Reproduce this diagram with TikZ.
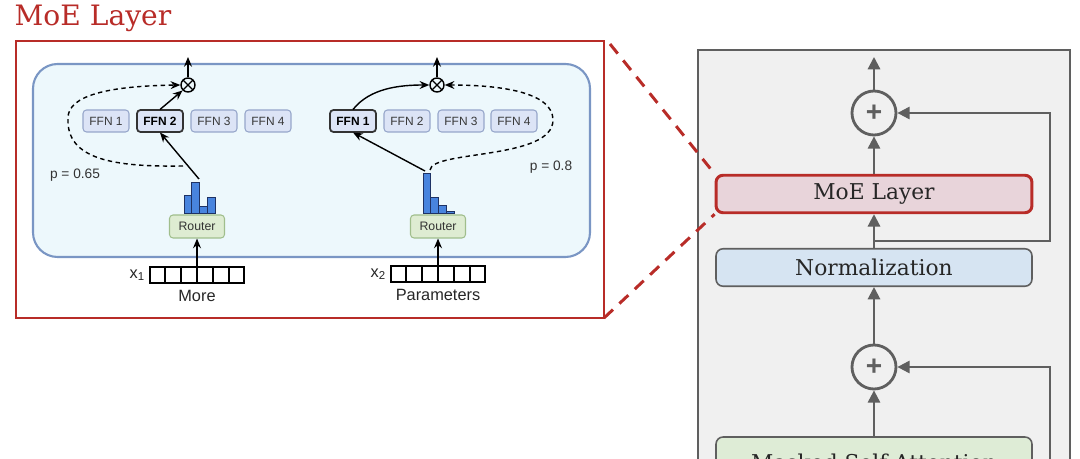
\documentclass[tikz,border=0pt]{standalone}
\usepackage{fontspec}
\setmainfont{DejaVu Serif}
\setsansfont{Liberation Sans}
\usetikzlibrary{arrows.meta,calc,positioning}
\definecolor{moered}{RGB}{184,44,40}
\definecolor{moefill}{RGB}{232,212,218}
\definecolor{frameline}{RGB}{122,150,196}
\definecolor{framefill}{RGB}{237,248,252}
\definecolor{ffnline}{RGB}{150,166,202}
\definecolor{ffnfill}{RGB}{220,228,246}
\definecolor{routerline}{RGB}{160,190,140}
\definecolor{routerfill}{RGB}{222,236,210}
\definecolor{barfill}{RGB}{72,132,222}
\definecolor{barline}{RGB}{30,50,100}
\definecolor{grayline}{RGB}{95,95,95}
\definecolor{grayfill}{RGB}{240,240,240}
\definecolor{normfill}{RGB}{214,228,242}
\definecolor{attnfill}{RGB}{222,236,214}

\begin{document}
\begin{tikzpicture}[x=0.02cm,y=-0.02cm,line width=0.8pt,
      >={Stealth[width=4.5pt,length=5.5pt]},
      ffn/.style={draw=ffnline,fill=ffnfill,line width=0.6pt,rounded corners=2pt,
        minimum width=0.92cm,minimum height=0.44cm,inner sep=0pt,text=black!78,
        font=\sffamily\fontsize{6.8}{8}\selectfont},
      ffnsel/.style={ffn,draw=black!80,line width=1pt,text=black,
        font=\sffamily\bfseries\fontsize{6.8}{8}\selectfont},
      router/.style={draw=routerline,fill=routerfill,line width=0.6pt,rounded corners=2pt,
        minimum width=1.1cm,minimum height=0.46cm,inner sep=0pt,text=black!80,
        font=\sffamily\fontsize{7}{8}\selectfont},
      mult/.style={circle,draw,line width=0.8pt,minimum size=0.28cm,inner sep=0pt,
        path picture={\draw[line width=0.7pt]
          (path picture bounding box.north west)--(path picture bounding box.south east)
          (path picture bounding box.north east)--(path picture bounding box.south west);}},
      vec/.style={draw,line width=0.9pt,minimum width=1.88cm,minimum height=0.32cm,inner sep=0pt},
      bar/.style={draw=barline,fill=barfill,line width=0.5pt},
      lbl/.style={font=\sffamily\fontsize{9.3}{11}\selectfont,text=black!85,inner sep=1pt},
      prob/.style={font=\sffamily\fontsize{7.8}{9}\selectfont,text=black!80},
      gate/.style={dash pattern=on 2.5pt off 2pt},
      layer/.style={draw=grayline,line width=0.9pt,rounded corners=4pt,minimum width=6.32cm,
        minimum height=0.75cm,inner sep=0pt,text=black!85,font=\fontsize{12.4}{14}\selectfont},
      plus/.style={circle,draw=grayline,line width=1.6pt,minimum size=0.88cm,inner sep=0pt,
        text=grayline,font=\sffamily\bfseries\fontsize{16}{16}\selectfont},
      flow/.style={draw=grayline,line width=1.2pt,-{Triangle[width=7pt,length=7pt]}},
      link/.style={draw=grayline,line width=1.2pt}]
  \useasboundingbox (0,0) rectangle (1080,459);
  \clip (0,0) rectangle (1080,459);

  % zoomed MoE layer
  \node[anchor=base west,inner sep=0pt,text=moered,font=\fontsize{16}{18}\selectfont]
    (title) at (14,26) {MoE Layer};
  \draw[moered,line width=1.7pt] (16,41) rectangle (604,318);
  \coordinate (zoomtop) at (610,44);
  \coordinate (zoombot) at (604,318);
  \draw[frameline,fill=framefill,line width=1.2pt,rounded corners=14pt] (33,64) rectangle (590,257);

  \foreach \n/\x in {1/106,2/160,3/214,4/268}
    \node[ffn] (ffnA\n) at (\x,121) {FFN \n};
  \node[ffnsel] at (ffnA2) {FFN 2};
  \foreach \n/\x in {1/353,2/407,3/461,4/514}
    \node[ffn] (ffnB\n) at (\x,121) {FFN \n};
  \node[ffnsel] at (ffnB1) {FFN 1};

  \node[mult] (multA) at (188,85) {};
  \node[mult] (multB) at (437,85) {};
  \coordinate (outA) at (188,57);
  \coordinate (outB) at (437,57);
  \draw[->] (multA) -- (outA);
  \draw[->] (multB) -- (outB);

  \node[router] (routerA) at (197,226.5) {Router};
  \node[router] (routerB) at (438,226.5) {Router};
  \foreach \h [count=\i from 0] in {195,182,206,197}
    \draw[bar] (184+\i*7.75,213) rectangle ++(7.75,\h-213);
  \foreach \h [count=\i from 0] in {173,197,205,211}
    \draw[bar] (423+\i*7.75,213) rectangle ++(7.75,\h-213);
  \coordinate (histA) at (199,179);
  \coordinate (histB) at (425,171);
  \coordinate (gateA) at (183,166);
  \coordinate (gateB) at (430,170);

  \node[vec] (vecA) at (197,275) {};
  \node[vec] (vecB) at (438,274) {};
  \foreach \v in {vecA,vecB}
    \foreach \i in {1,...,5}
      \draw[line width=0.9pt] ($(\v.south west)!\i/6!(\v.south east)$) -- ++(0,-16);
  \node[lbl,left=1pt of vecA] (xA) {x\textsubscript{1}};
  \node[lbl,left=1pt of vecB] (xB) {x\textsubscript{2}};
  \node[lbl,below=2pt of vecA] (wordA) {More};
  \node[lbl,below=2pt of vecB] (wordB) {Parameters};
  \draw[->] (vecA.north) -- (routerA.south);
  \draw[->] (vecB.north) -- (routerB.south);

  \draw[->] (histA) -- (ffnA2.south);
  \draw[->] (ffnA2.north) -- (multA.south west);
  \draw[->,gate] (gateA) .. controls (115,167) and (66,160) .. (68,118)
    .. controls (68,95) and (110,86) .. (multA.west);
  \draw[->] (histB) -- (ffnB1.south);
  \draw[->] (ffnB1.north) .. controls (370,88) and (400,85) .. (multB.west);
  \draw[->,gate] (gateB) .. controls (432,150) and (553,160) .. (553,120)
    .. controls (553,92) and (500,85) .. (multB.east);
  \node[prob] (pA) at (75,175) {p = 0.65};
  \node[prob] (pB) at (551,167) {p = 0.8};

  % decoder block
  \draw[grayline,fill=grayfill,line width=1.7pt] (698,50) rectangle (1070,520);
  \node[plus] (plusA) at (874,113) {+};
  \node[plus] (plusB) at (874,367) {+};
  \node[layer,draw=moered,line width=1.7pt,fill=moefill] (moe) at (874,194) {MoE Layer};
  \node[layer,fill=normfill] (norm) at (874,267.5) {Normalization};
  \node[layer,fill=attnfill,minimum height=1cm] (attn) at (874,462) {Masked Self-Attention};
  \coordinate (top) at (874,57);
  \coordinate (skipA) at (874,241);
  \coordinate (skipB) at (1050,480);
  \draw[flow] (plusA) -- (top);
  \draw[flow] (moe) -- (plusA);
  \draw[flow] (norm) -- (moe);
  \draw[flow] (plusB) -- (norm);
  \draw[flow] (attn) -- (plusB);
  \draw[flow] (skipA) -| (1050,113) -- (plusA);
  \draw[flow] (skipB) |- (plusB);

  \draw[moered,line width=1.7pt,dash pattern=on 7pt off 5pt] (zoomtop) -- (moe.north west);
  \draw[moered,line width=1.7pt,dash pattern=on 7pt off 5pt] (zoombot) -- (moe.south west);
\end{tikzpicture}
\end{document}
